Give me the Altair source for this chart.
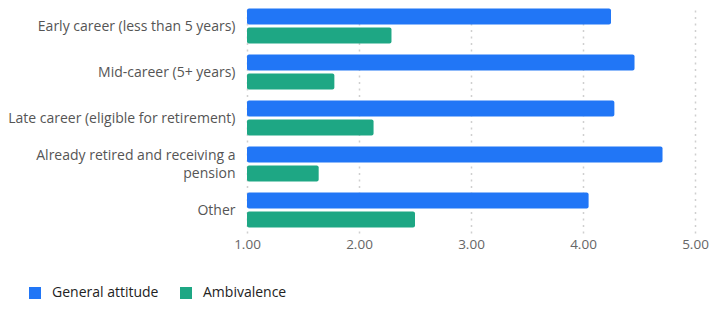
import altair as alt
import pandas as pd

categories = [
    "Early career (less than 5 years)",
    "Mid-career (5+ years)",
    "Late career (eligible for retirement)",
    "Already retired and receiving a pension",
    "Other",
]
series = ["General attitude", "Ambivalence"]
general_attitude = [4.25, 4.46, 4.28, 4.71, 4.05]
ambivalence = [2.29, 1.78, 2.13, 1.64, 2.50]
x_ticks = [1, 2, 3, 4, 5]
colors = ["#2176f6", "#1ea784"]

rows = []
for c, g, a in zip(categories, general_attitude, ambivalence):
    rows.append({"category": c, "series": series[0], "value": g})
    rows.append({"category": c, "series": series[1], "value": a})
df = pd.DataFrame(rows)

FONT = "Open Sans"
FS = 14
WRAPPED = "Already retired and receiving a pension"

chart = (
    alt.Chart(df)
    .mark_bar(cornerRadius=2)
    .encode(
        x=alt.X(
            "value:Q",
            scale=alt.Scale(domain=[1, 5], zero=False, nice=False),
            axis=alt.Axis(
                values=x_ticks,
                format=".2f",
                title=None,
                domain=False,
                ticks=False,
                labelFlush=False,
                labelPadding=4,
                labelFontSize=13.5,
                labelColor="#666666",
                labelFont=FONT,
                grid=True,
                gridDash=[2, 4.5],
                gridColor="#cfcfcf",
                gridWidth=1.5,
            ),
        ),
        x2=alt.datum(1),
        y=alt.Y(
            "category:N",
            sort=categories,
            scale=alt.Scale(paddingInner=0.239, paddingOuter=0.12),
            axis=alt.Axis(
                title=None,
                domain=False,
                ticks=False,
                grid=False,
                labelPadding=12,
                labelFontSize=FS,
                labelColor="#555555",
                labelFont=FONT,
                labelLimit=300,
                labelLineHeight=18,
                labelOffset={
                    "condition": {"test": f"datum.value == '{WRAPPED}'", "value": -8},
                    "value": 1,
                },
                labelExpr=f"datum.label == '{WRAPPED}' ? ['Already retired and receiving a', 'pension'] : datum.label",
            ),
        ),
        yOffset=alt.YOffset(
            "series:N",
            sort=series,
            scale=alt.Scale(paddingInner=0.158, paddingOuter=0),
        ),
        color=alt.Color(
            "series:N",
            sort=series,
            scale=alt.Scale(domain=series, range=colors),
            legend=alt.Legend(
                title=None,
                orient="none",
                direction="horizontal",
                legendX=-219,
                legendY=283,
                padding=0,
                symbolType="square",
                symbolSize=144,
                symbolStrokeWidth=0,
                symbolOpacity=1,
                labelFontSize=FS,
                labelFont=FONT,
                labelColor="#222222",
                labelOffset=10,
                columnPadding=20,
            ),
        ),
    )
    .properties(
        width=448,
        height=230,
        padding={"left": 239, "top": -5, "right": 14, "bottom": 68},
        autosize=alt.AutoSizeParams(type="none"),
    )
    .configure_view(stroke=None)
)

chart.save("out.html", embed_options={"renderer": "svg", "actions": False})
